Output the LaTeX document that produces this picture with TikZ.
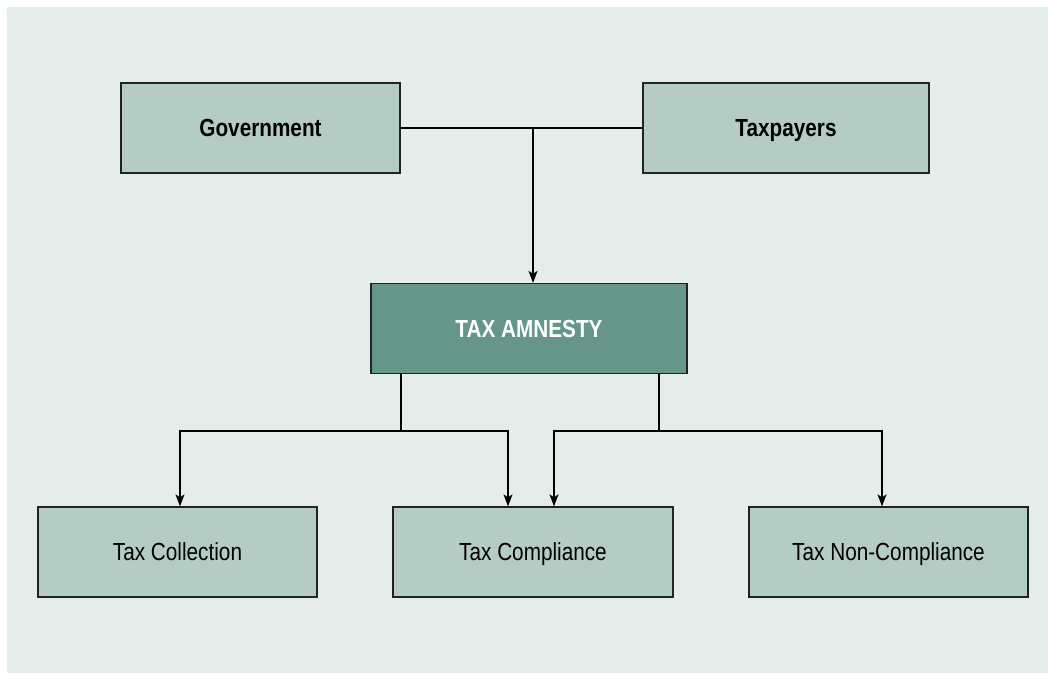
\documentclass[tikz,border=0pt]{standalone}
\usepackage{fontspec}
\setmainfont{Liberation Sans}[FakeStretch=0.84]
\usetikzlibrary{arrows.meta,calc}
\definecolor{panel}{HTML}{E4EDEA}
\definecolor{boxfill}{HTML}{B5CCC5}
\definecolor{amnfill}{HTML}{66968A}
\definecolor{edge}{HTML}{222222}
\begin{document}
\begin{tikzpicture}[x=1pt,y=-1pt,
  box/.style={draw=edge,line width=1.3pt,fill=boxfill,rectangle,inner sep=0pt,
    minimum height=90pt,text height=17.7pt,text depth=0pt,
    font=\fontsize{24.7}{28}\selectfont},
  boldbox/.style={box,font=\fontsize{24.7}{28}\selectfont\bfseries},
  amnbox/.style={box,fill=amnfill,text=white,font=\fontsize{24.7}{28}\selectfont\bfseries},
  conn/.style={draw=black,line width=1.3pt},
  arr/.style={conn,-{Stealth[length=12pt,width=9pt,inset=3pt]}}]
\fill[white] (0,0) rectangle (1048,673);
\fill[panel] (7,7) rectangle (1048,673);
\useasboundingbox (0,0) rectangle (1048,673);

\node[boldbox,minimum width=279pt] (gov) at (260.5,128) {Government};
\node[boldbox,minimum width=286pt] (tax) at (786,128) {Taxpayers};
\node[amnbox,minimum width=316pt] (amn) at (529,328.5) {TAX AMNESTY};
\node[box,minimum width=279pt] (col) at (177.5,552) {Tax Collection};
\node[box,minimum width=280pt] (cmp) at (533,552) {Tax Compliance};
\node[box,minimum width=279pt] (non) at (888.5,552) {Tax Non-Compliance};

\coordinate (J) at (533,128);
\coordinate (L) at (401,431);
\coordinate (R) at (659,431);

\draw[conn] (gov.east) -- (tax.west);
\draw[arr] (J) -- (J |- amn.north);
\draw[conn] (amn.south -| L) -- (L);
\draw[arr] (L) -| ($(col.north)+(2.5,0)$);
\draw[arr] (L) -| ($(cmp.north)+(-25,0)$);
\draw[conn] (amn.south -| R) -- (R);
\draw[arr] (R) -| ($(cmp.north)+(21,0)$);
\draw[arr] (R) -| ($(non.north)+(-6.5,0)$);
\end{tikzpicture}
\end{document}
